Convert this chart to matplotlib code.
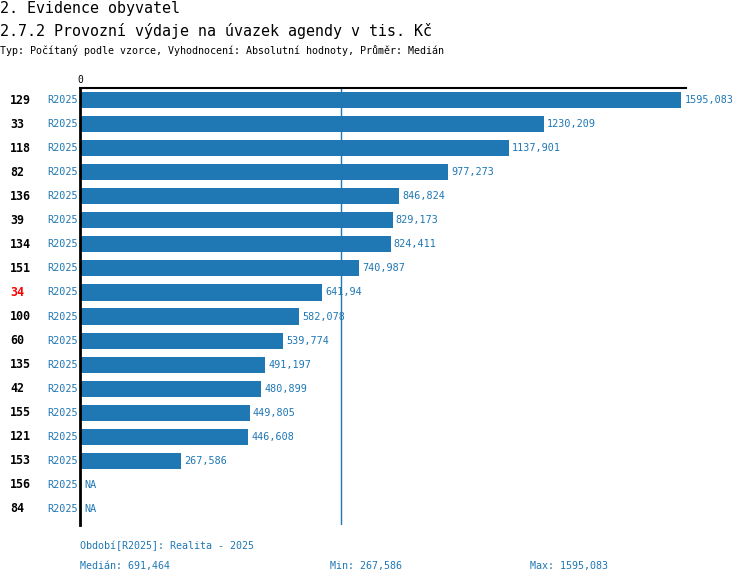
import matplotlib
matplotlib.use("Agg")
import matplotlib.pyplot as plt
from matplotlib.transforms import blended_transform_factory
import numpy as np

ids = ["129", "33", "118", "82", "136", "39", "134", "151", "34", "100",
       "60", "135", "42", "155", "121", "153", "156", "84"]
period = "R2025"
values = [1595.083, 1230.209, 1137.901, 977.273, 846.824, 829.173, 824.411,
          740.987, 641.94, 582.078, 539.774, 491.197, 480.899, 449.805,
          446.608, 267.586, None, None]
highlight = "34"
median = 691.464
vmin = 267.586
vmax = 1595.083

def fmt(v):
    s = ("%.3f" % v).rstrip("0").rstrip(".")
    return s.replace(".", ",")

W, H = 750, 584
fig = plt.figure(figsize=(W / 100, H / 100), dpi=100)
plt.rcParams['font.family'] = ['DejaVu Sans Mono']
blue = "#1f77b4"

ax = fig.add_axes([80 / W, 1 - 525 / H, 606 / W, (525 - 88) / H])
n = len(ids)
ypos = np.arange(n)
vals = [v if v is not None else 0 for v in values]
ax.barh(ypos, vals, height=0.67, color=blue, zorder=2)
ax.set_ylim(n - 0.5 + 4 / 24, -0.5)
ax.set_xlim(0, 1607.5)
ax.axvline(median, color=blue, lw=1, zorder=1)
for s in ["right", "bottom"]:
    ax.spines[s].set_visible(False)
ax.spines["left"].set_linewidth(2)
ax.spines["top"].set_linewidth(1.5)
ax.set_yticks([])
ax.xaxis.tick_top()
ax.set_xticks([0])
ax.set_xticklabels(["0"])
ax.tick_params(axis="x", length=0, pad=2, labelsize=7)

trans = blended_transform_factory(fig.transFigure, ax.transData)
for i, (lab, v) in enumerate(zip(ids, values)):
    ax.text(10 / W, i, lab, transform=trans, ha="left", va="center",
            fontsize=8.4, fontweight="bold",
            color="red" if lab == highlight else "black")
    ax.text(78 / W, i, period, transform=trans, ha="right", va="center",
            fontsize=7.3, color=blue)
    if v is None:
        ax.text(4 / 0.3768, i, "NA", ha="left", va="center", fontsize=7.3, color=blue)
    else:
        ax.text(v + 3 / 0.3768, i, fmt(v), ha="left", va="center",
                fontsize=7.3, color=blue)

fig.text(0, 1 - 8 / H, "2. Evidence obyvatel", fontsize=10.8, va="center", ha="left")
fig.text(0, 1 - 31 / H, "2.7.2 Provozní výdaje na úvazek agendy v tis. Kč",
         fontsize=10.8, va="center", ha="left")
fig.text(0, 1 - 50 / H,
         "Typ: Počítaný podle vzorce, Vyhodnocení: Absolutní hodnoty, Průměr: Medián",
         fontsize=7.2, va="center", ha="left")

fig.text(80 / W, 1 - 546 / H, "Období[R2025]: Realita - 2025", fontsize=7.2,
         color=blue, va="center", ha="left")
fig.text(80 / W, 1 - 566 / H, "Medián: " + fmt(median), fontsize=7.2,
         color=blue, va="center", ha="left")
fig.text(330 / W, 1 - 566 / H, "Min: " + fmt(vmin), fontsize=7.2,
         color=blue, va="center", ha="left")
fig.text(530 / W, 1 - 566 / H, "Max: " + fmt(vmax), fontsize=7.2,
         color=blue, va="center", ha="left")

fig.savefig("out.png", dpi=100)
